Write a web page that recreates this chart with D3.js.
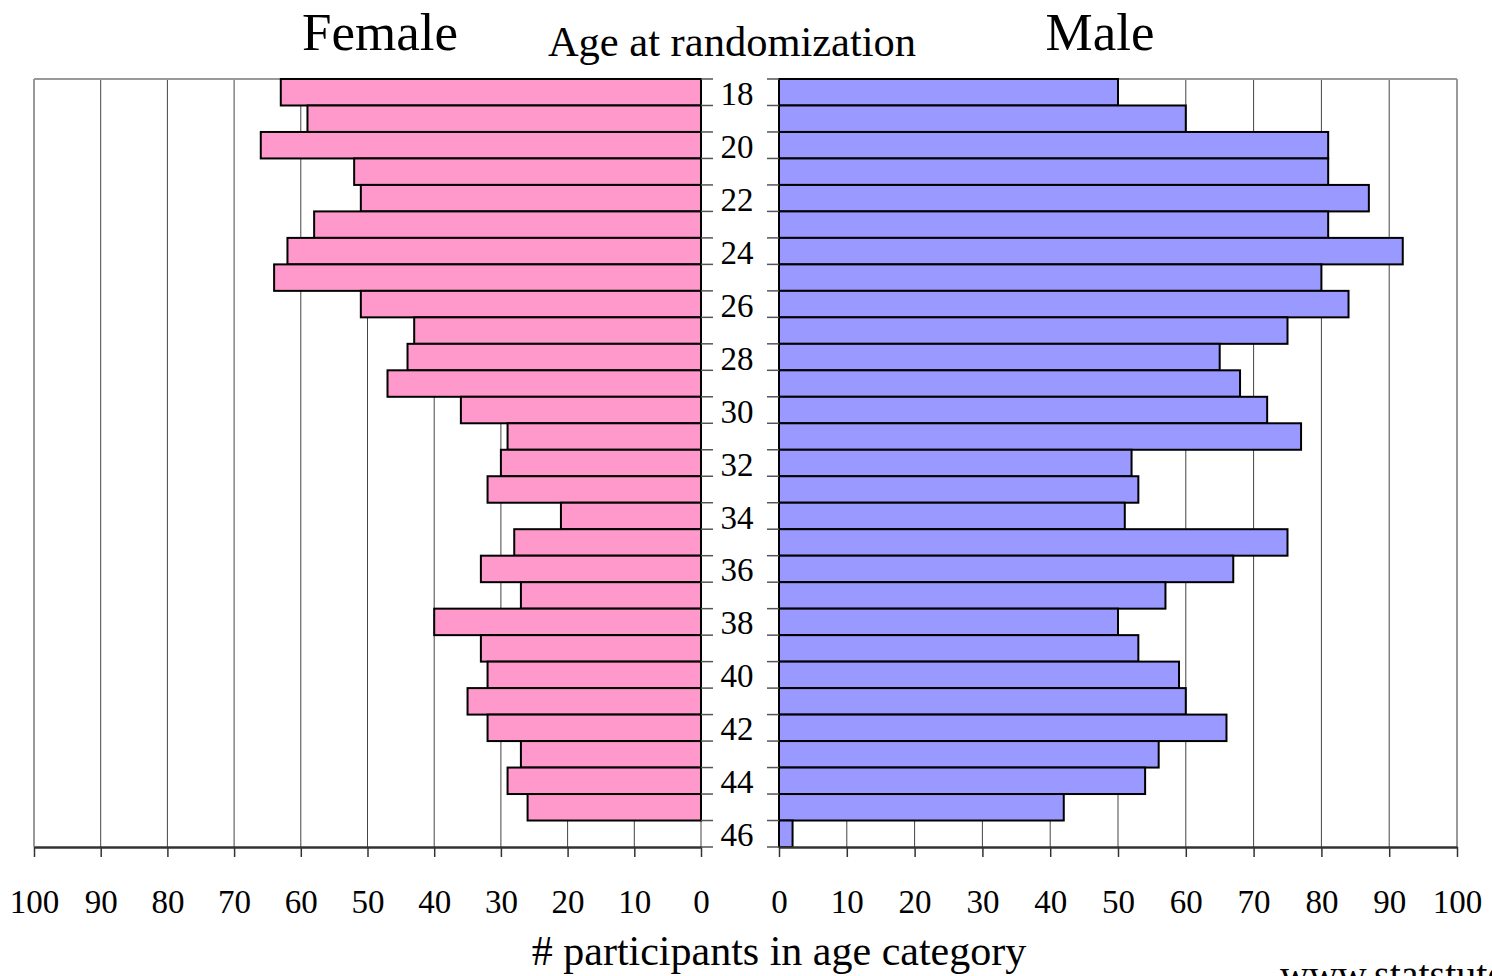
<!DOCTYPE html>
<html>
<head>
<meta charset="utf-8">
<script src="https://cdn.jsdelivr.net/npm/d3@7"></script>
<style>
  body { margin: 0; background: #fff; }
  svg text { font-family: "Liberation Serif", "Times New Roman", serif; fill: #000; }
</style>
</head>
<body>
<svg id="chart"></svg>
<script>
const width = 1492;
const height = 976;

// age categories 18..46
var ages = d3.range(18, 47);
var female = [63, 59, 66, 52, 51, 58, 62, 64, 51, 43, 44, 47, 36, 29, 30, 32, 21, 28, 33, 27, 40, 33, 32, 35, 32, 27, 29, 26, 0];
var male = [50, 60, 81, 81, 87, 81, 92, 80, 84, 75, 65, 68, 72, 77, 52, 53, 51, 75, 67, 57, 50, 53, 59, 60, 66, 56, 54, 42, 2];
var countTicks = [0, 10, 20, 30, 40, 50, 60, 70, 80, 90, 100];

var svg = d3.select("#chart").attr("width", width).attr("height", height);

const plotTop = 79, plotBottom = 847;
var yScale = d3.scaleBand().domain(ages).range([plotTop, plotBottom]).padding(0);
var xLeft = d3.scaleLinear().domain([0, 100]).range([701, 34]);
var xRight = d3.scaleLinear().domain([0, 100]).range([779, 1457]);

function panel(x, data, fill, side) {
    var g = svg.append("g");
    // gridlines
    g.selectAll("line.grid")
        .data(countTicks)
        .enter()
        .append("line")
        .attr("x1", d => x(d)).attr("x2", d => x(d))
        .attr("y1", plotTop).attr("y2", plotBottom)
        .attr("stroke", d => d == 100 ? "#999" : "#444")
        .attr("stroke-width", d => d == 100 ? 2 : 1);
    // top border
    g.append("line")
        .attr("x1", x(0)).attr("x2", x(100))
        .attr("y1", plotTop).attr("y2", plotTop)
        .attr("stroke", "#999").attr("stroke-width", 2);

    g.selectAll("rect")
        .data(data)
        .enter()
        .append("rect")
        .attr("x", d => Math.min(x(0), x(d)))
        .attr("width", d => Math.abs(x(d) - x(0)))
        .attr("y", (d, i) => yScale(ages[i]))
        .attr("height", yScale.bandwidth())
        .attr("fill", fill)
        .attr("stroke", d => d > 0 ? "#000" : "none")
        .attr("stroke-width", 2);

    // count axis
    var axis = d3.axisBottom(x).tickValues(countTicks).tickSize(10).tickPadding(33).tickSizeOuter(0);
    var ax = g.append("g")
        .attr("transform", `translate(0,${plotBottom})`)
        .call(axis);
    ax.select(".domain").attr("stroke", "#333").attr("stroke-width", 2.5);
    ax.selectAll(".tick line").attr("stroke", "#333").attr("stroke-width", 1.5);
    ax.selectAll(".tick text")
        .style("font-size", "33px")
        .attr("fill", "#000");

    // category ticks at band edges
    var edges = ages.map(a => yScale(a)).concat([plotBottom]);
    var x0 = x(0);
    var x1 = side == "left" ? x0 + 12 : x0 - 12;
    g.selectAll("line.cat")
        .data(edges)
        .enter()
        .append("line")
        .attr("x1", x0).attr("x2", x1)
        .attr("y1", d => d).attr("y2", d => d)
        .attr("stroke", "#555").attr("stroke-width", 1.5);
}

panel(xLeft, female, "#ff99cc", "left");
panel(xRight, male, "#9999ff", "right");

// age labels every other category
svg.selectAll("text.age")
    .data(ages.filter(a => a % 2 == 0))
    .enter()
    .append("text")
    .attr("x", 737)
    .attr("y", d => yScale(d) + yScale.bandwidth() / 2)
    .attr("dy", "0.38em")
    .attr("text-anchor", "middle")
    .style("font-size", "33px")
    .text(d => d);

svg.append("text").attr("x", 380).attr("y", 50).attr("text-anchor", "middle")
    .style("font-size", "53px").text("Female");
svg.append("text").attr("x", 1100).attr("y", 50).attr("text-anchor", "middle")
    .style("font-size", "53px").text("Male");
svg.append("text").attr("x", 732).attr("y", 56).attr("text-anchor", "middle")
    .style("font-size", "42.5px").text("Age at randomization");
svg.append("text").attr("x", 779).attr("y", 965).attr("text-anchor", "middle")
    .style("font-size", "42px").text("# participants in age category");
svg.append("text").attr("x", 1280).attr("y", 988)
    .style("font-size", "40px").text("www.statstutor.ac.uk");
</script>
</body>
</html>
